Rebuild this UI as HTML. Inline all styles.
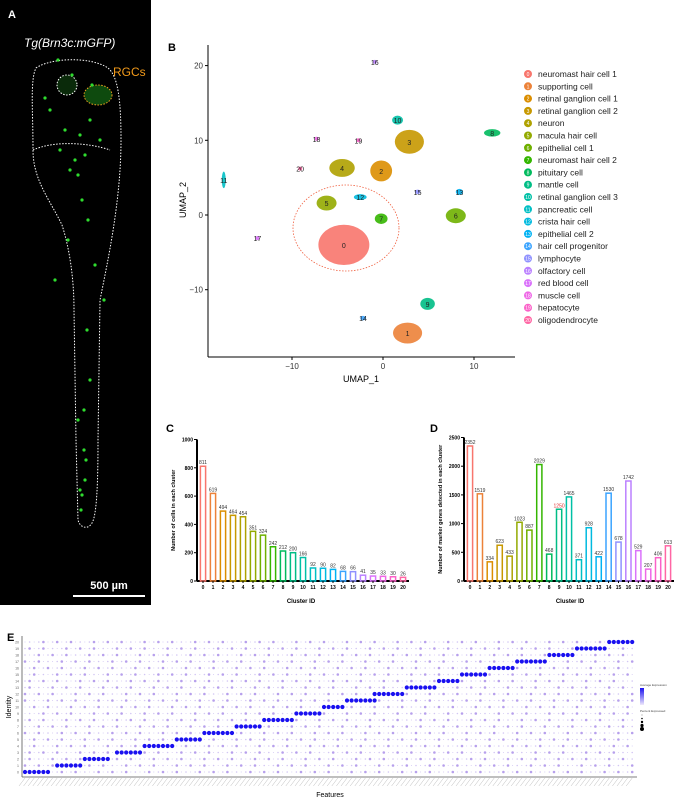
<!DOCTYPE html>
<html><head><meta charset="utf-8">
<style>
body{margin:0;background:#fff;width:677px;height:799px;overflow:hidden;font-family:"Liberation Sans",sans-serif}
svg{position:absolute;left:0;top:0}
text{font-family:"Liberation Sans",sans-serif}
</style></head>
<body>
<svg id="fig" width="677" height="799" viewBox="0 0 677 799">
  <!-- Panel A -->
  <g>
    <rect x="0" y="0" width="151" height="605" fill="#000"/>
    <text x="8" y="18" fill="#fff" font-size="11" font-weight="bold">A</text>
    <text x="24" y="47" fill="#fff" font-size="12" font-style="italic">Tg(Brn3c:mGFP)</text>
    <path d="M36,68 C50,58 90,56 108,68 C118,76 121,100 121,140 C121,200 108,260 100,300 L98,440 C98,480 97,515 92,523 C88,530 80,528 78,520 L76,440 L74,310 C74,280 70,250 62,225 C50,200 33,180 33,150 C33,110 30,80 36,68 Z" fill="none" stroke="#fff" stroke-width="1" stroke-dasharray="1.5,1.5"/>
    <path d="M33,150 C55,140 90,143 110,150" fill="none" stroke="#fff" stroke-width="1" stroke-dasharray="1.5,1.5"/>
    <circle cx="67" cy="85" r="10" fill="#0a2a0a" stroke="#fff" stroke-width="1" stroke-dasharray="1.5,1.5"/>
    <ellipse cx="98" cy="95" rx="14" ry="10" fill="#0e4a0e" stroke="#f0a020" stroke-width="1" stroke-dasharray="1.5,1.5"/>
    <text x="113" y="76" fill="#f29a1a" font-size="12">RGCs</text>
    <g id="gfp" fill="#2fdc2f"></g>
    <line x1="73" y1="596" x2="145" y2="596" stroke="#fff" stroke-width="2"/>
    <text x="109" y="589" fill="#fff" font-size="11" font-weight="bold" text-anchor="middle">500 µm</text>
  </g>

  <!-- Panel B -->
  <text x="168" y="51" font-size="11" font-weight="bold">B</text>
  <g id="umap"></g>

  <!-- Panel C / D -->
  <text x="166" y="432" font-size="11" font-weight="bold">C</text>
  <text x="430" y="432" font-size="11" font-weight="bold">D</text>
  <g id="barC"></g>
  <g id="barD"></g>

  <!-- Panel E -->
  <text x="7" y="641" font-size="11" font-weight="bold">E</text>
  <g id="dot"></g>
</svg>
<script>
const NS="http://www.w3.org/2000/svg";
const clusterIds=[0,1,2,3,4,5,6,7,8,9,10,11,12,13,14,15,16,17,18,19,20];
const cellTypes=["neuromast hair cell 1","supporting cell","retinal ganglion cell 1","retinal ganglion cell 2","neuron","macula hair cell","epithelial cell 1","neuromast hair cell 2","pituitary cell","mantle cell","retinal ganglion cell 3","pancreatic cell","crista hair cell","epithelial cell 2","hair cell progenitor","lymphocyte","olfactory cell","red blood cell","muscle cell","hepatocyte","oligodendrocyte"];
const colors=["#F8766D","#EC8239","#DB8E00","#C79800","#AFA100","#93AA00","#6FB000","#34B600","#00BA5D","#00BD85","#00C0A6","#00BFC4","#00BADF","#00B2F3","#3BA4FF","#8F91FF","#BB81FF","#DA72FB","#EE67E6","#FB61C8","#FF66A4"];
const umapX=[-4.3,2.7,-0.2,2.9,-4.5,-6.2,8.0,-0.2,12.0,4.9,1.6,-17.5,-2.5,8.4,-2.2,3.8,-0.9,-13.8,-7.3,-2.7,-9.1];
const umapY=[-4.0,-15.8,5.9,9.8,6.3,1.6,-0.1,-0.5,11.0,-11.9,12.7,4.7,2.4,3.1,-13.8,3.1,20.5,-3.1,10.2,10.0,6.2];
const umapSpreadX=[2.8,1.6,1.2,1.6,1.4,1.1,1.1,0.7,0.9,0.8,0.6,0.2,0.7,0.4,0.3,0.3,0.2,0.2,0.2,0.2,0.2];
const umapSpreadY=[2.7,1.4,1.4,1.6,1.2,1.0,1.0,0.7,0.5,0.8,0.6,1.1,0.4,0.4,0.3,0.3,0.2,0.2,0.2,0.2,0.2];
const umapTicksX=[-10,0,10];
const umapTicksY=[-10,0,10,20];
const cellCounts=[811,619,494,464,454,351,324,242,212,200,166,92,90,82,68,66,41,35,33,30,26];
const markerCounts=[2352,1519,334,623,433,1023,887,2029,468,1250,1465,371,928,422,1530,678,1742,529,207,406,613];
const cTicks=[0,200,400,600,800,1000];
const dTicks=[0,500,1000,1500,2000,2500];
const gfpX=[58,72,45,90,80,100,60,75,85,70,65,92,50,78,82,88,68,95,55,104,84,86,80,82,81,85,87,90,84,78];
const gfpY=[60,75,98,120,135,140,150,160,155,170,130,85,110,175,200,220,240,265,280,300,450,460,490,495,510,480,330,380,410,420];

function el(tag,attrs,parent){const e=document.createElementNS(NS,tag);for(const k in attrs)e.setAttribute(k,attrs[k]);parent.appendChild(e);return e;}

// GFP dots
const gfp=document.getElementById('gfp');
gfpX.forEach((x,i)=>{const c=el('circle',{cx:x,cy:gfpY[i],r:1.6},gfp);

});

// UMAP
const U=document.getElementById('umap');
const ux=u=>383+9.1*u, uy=v=>215-7.47*v;
el('line',{x1:208,y1:45,x2:208,y2:357,stroke:'#000','stroke-width':1},U);
el('line',{x1:208,y1:357,x2:515,y2:357,stroke:'#000','stroke-width':1},U);
umapTicksX.forEach(t=>{el('line',{x1:ux(t),y1:357,x2:ux(t),y2:360,stroke:'#000'},U);
const tx=el('text',{x:ux(t),y:369,'font-size':8,'text-anchor':'middle',fill:'#333'},U);tx.textContent=(t<0?'\u2212':'')+Math.abs(t);

});
umapTicksY.forEach(t=>{el('line',{x1:205,y1:uy(t),x2:208,y2:uy(t),stroke:'#000'},U);
const tx=el('text',{x:203,y:uy(t)+3,'font-size':8,'text-anchor':'end',fill:'#333'},U);tx.textContent=(t<0?'\u2212':'')+Math.abs(t);

});
let t1=el('text',{x:361,y:382,'font-size':9,'text-anchor':'middle'},U);t1.textContent='UMAP_1';


let t2=el('text',{x:0,y:0,'font-size':9,'text-anchor':'middle',transform:'translate(186,200) rotate(-90)'},U);t2.textContent='UMAP_2';


clusterIds.forEach(i=>{
  const g=el('ellipse',{cx:ux(umapX[i]),cy:uy(umapY[i]),rx:Math.max(2,umapSpreadX[i]*9.1),ry:Math.max(2,umapSpreadY[i]*7.47),fill:colors[i],opacity:0.9},U);
  
  
  const l=el('text',{x:ux(umapX[i]),y:uy(umapY[i])+3,'font-size':7,'text-anchor':'middle',fill:'#222'},U);l.textContent=i;
  
  
});
const ring=el('ellipse',{cx:346,cy:228,rx:53,ry:43,fill:'none',stroke:'#f06040','stroke-width':0.8,'stroke-dasharray':'1.5,1.5'},U);


// legend
clusterIds.forEach(i=>{
  const y=74+i*12.3;
  const c=el('circle',{cx:528,cy:y,r:4,fill:colors[i]},U);
  
  
  const n=el('text',{x:528,y:y+2,'font-size':5,'text-anchor':'middle',fill:'#fff'},U);n.textContent=i;
  const t=el('text',{x:538,y:y+3,'font-size':8.5,fill:'#222'},U);t.textContent=cellTypes[i];
  
  
});

// Bar charts
function bars(gid,data,ticks,x0,step,axX,y0,scale,yTitle,titleX,labelColor){
  const G=document.getElementById(gid);
  const y=v=>y0-v*scale;
  el('line',{x1:axX,y1:y(ticks[ticks.length-1]),x2:axX,y2:y0,stroke:'#000','stroke-width':2},G);
  el('line',{x1:axX,y1:y0,x2:x0+step*20+6,y2:y0,stroke:'#000','stroke-width':2},G);
  ticks.forEach(t=>{el('line',{x1:axX-3,y1:y(t),x2:axX,y2:y(t),stroke:'#000','stroke-width':1},G);
    const tx=el('text',{x:axX-4,y:y(t)+2,'font-size':5,'text-anchor':'end','font-weight':'bold'},G);tx.textContent=t;
    
    });
  data.forEach((v,i)=>{
    const cx=x0+i*step;
    const r=el('rect',{x:cx-2.6,y:y(v),width:5.2,height:y0-y(v),fill:'none',stroke:colors[i],'stroke-width':1.5},G);
    
    
    const l=el('text',{x:cx,y:y(v)-2,'font-size':5,'text-anchor':'middle',fill:labelColor(i)},G);l.textContent=v;
    
    
    el('line',{x1:cx,y1:y0,x2:cx,y2:y0+2,stroke:'#000'},G);
    const tx=el('text',{x:cx,y:y0+8,'font-size':5,'text-anchor':'middle','font-weight':'bold'},G);tx.textContent=clusterIds[i];
    
    
  });
  const xt=el('text',{x:titleX,y:y0+22,'font-size':6,'text-anchor':'middle','font-weight':'bold'},G);xt.textContent='Cluster ID';
  
  
  const yt=el('text',{x:0,y:0,'font-size':5.5,'text-anchor':'middle','font-weight':'bold',transform:`translate(${axX-22},${(y0+y(ticks[ticks.length-1]))/2}) rotate(-90)`},G);yt.textContent=yTitle;
  
  
}
bars('barC',cellCounts,cTicks,203,10,197,581,0.1415,'Number of cells in each cluster',301,()=>'#333');
bars('barD',markerCounts,dTicks,470,9.9,464,581,0.0574,'Number of marker genes detected in each cluster',570,i=>i===9?'#e03030':'#333');

// Dot plot
const D=document.getElementById('dot');
const dotStarts=[22,53,84,113,144,173,203,233,263,293,323,344,374,405,435,462,489,516,546,576,606];
const dotEnds=[52,83,110,143,173,203,233,263,293,323,343,375,405,435,462,488,516,546,576,606,636];
const rowY=r=>772-r*6.5;
el('line',{x1:22,y1:636,x2:22,y2:777,stroke:'#555','stroke-width':0.8},D);
el('line',{x1:22,y1:777,x2:637,y2:777,stroke:'#555','stroke-width':0.8},D);
const colsX=[];for(let x=25;x<636;x+=4.6)colsX.push(x);
clusterIds.forEach(r=>{
  const y=rowY(r);
  const tk=el('text',{x:19,y:y+1.5,'font-size':3.5,'text-anchor':'end',fill:'#666'},D);tk.textContent=r;
  colsX.forEach((x,k)=>{
    const h=(k*7+r*13)%11;
    let rad=h<3?1.3:(h<7?0.8:0.5), col=h<3?'#b7a0ec':'#d2c6f3';
    if(x>=dotStarts[r]&&x<=dotEnds[r]){rad=2.1;col='#1a10f0';}
    el('circle',{cx:x,cy:y,r:rad,fill:col},D);
  });
});
// diagonal ticks under axis
colsX.forEach(x=>{el('line',{x1:x,y1:778,x2:x-6,y2:786,stroke:'#aaa','stroke-width':0.4},D);});
let ft=el('text',{x:330,y:797,'font-size':7,'text-anchor':'middle'},D);ft.textContent='Features';


let it=el('text',{x:0,y:0,'font-size':7,'text-anchor':'middle',transform:'translate(11,707) rotate(-90)'},D);it.textContent='Identity';


// legend
const lg=el('g',{},D);


el('text',{x:640,y:686,'font-size':3,fill:'#444'},lg).textContent='Average Expression';
const grad=el('linearGradient',{id:'ge',x1:0,y1:0,x2:0,y2:1},lg);
el('stop',{offset:0,'stop-color':'#1a10f0'},grad);el('stop',{offset:1,'stop-color':'#eee8fb'},grad);
el('rect',{x:640,y:688,width:4,height:17,fill:'url(#ge)'},lg);
el('text',{x:640,y:712,'font-size':3,fill:'#444'},lg).textContent='Percent Expressed';
[0.4,0.8,1.2,1.6,2].forEach((r,i)=>el('circle',{cx:642,cy:715+i*3.5,r:r,fill:'#000'},lg));
</script>
</body></html>
